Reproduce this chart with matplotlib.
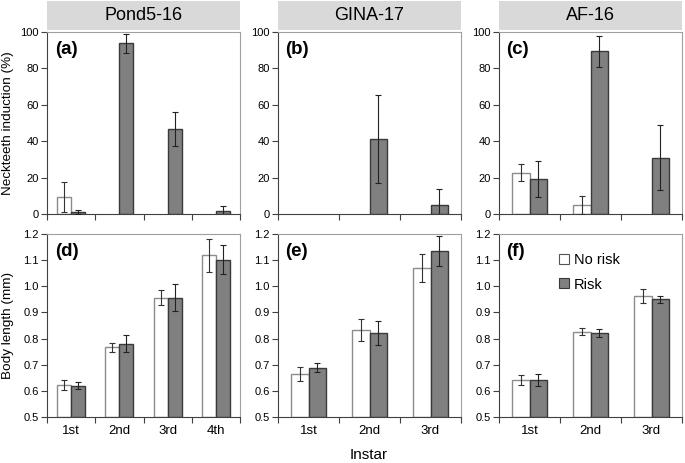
import matplotlib
matplotlib.use('Agg')
import matplotlib.pyplot as plt
import numpy as np
from matplotlib.patches import Rectangle
from matplotlib.lines import Line2D

plt.rcParams['font.family'] = ['Liberation Sans', 'DejaVu Sans']

# populations (strip titles)
populations = ['Pond5-16', 'GINA-17', 'AF-16']
instars = [['1st', '2nd', '3rd', '4th'], ['1st', '2nd', '3rd'], ['1st', '2nd', '3rd']]

# Neckteeth induction (%) - mean and error
teeth_norisk = [[9.2, 0, 0, 0], [0, 0, 0], [22.8, 4.8, 0]]
teeth_norisk_err = [[8.2, 0, 0, 0], [0, 0, 0], [4.6, 4.9, 0]]
teeth_risk = [[1.1, 93.8, 46.7, 1.6], [0, 41.3, 5.0], [19.3, 89.4, 31.0]]
teeth_risk_err = [[0.9, 5.2, 9.3, 2.6], [0, 24.3, 8.8], [10.0, 8.4, 17.8]]

# Body length (mm) - mean and error
body_norisk = [[0.622, 0.766, 0.957, 1.118], [0.664, 0.833, 1.070], [0.641, 0.826, 0.964]]
body_norisk_err = [[0.018, 0.016, 0.030, 0.063], [0.028, 0.043, 0.053], [0.019, 0.013, 0.027]]
body_risk = [[0.620, 0.781, 0.956, 1.102], [0.688, 0.822, 1.134], [0.642, 0.821, 0.950]]
body_risk_err = [[0.012, 0.033, 0.052, 0.055], [0.017, 0.046, 0.058], [0.023, 0.014, 0.013]]

panel_labels = [['(a)', '(b)', '(c)'], ['(d)', '(e)', '(f)']]

W, H = 685, 463
fig = plt.figure(figsize=(W / 100, H / 100), dpi=100)

# pixel boxes: (left, right) and (top, bottom)
cols = [(47, 240), (278, 461), (499, 682)]
rows = [(32, 214), (234, 417)]

white_edge = '#8c8c8c'
gray_fill = '#808080'
dark_edge = '#3a3a3a'
bw = 0.29

axes = {}
for r, (top, bot) in enumerate(rows):
    for c, (l, rr) in enumerate(cols):
        ax = fig.add_axes([l / W, (H - bot) / H, (rr - l) / W, (bot - top) / H])
        axes[(r, c)] = ax
        n = len(instars[c])
        x = np.arange(n) + 0.5
        if r == 0:
            nr, nre, rk, rke = teeth_norisk[c], teeth_norisk_err[c], teeth_risk[c], teeth_risk_err[c]
        else:
            nr, nre, rk, rke = body_norisk[c], body_norisk_err[c], body_risk[c], body_risk_err[c]
        base = 0 if r == 0 else 0.5
        nr, nre, rk, rke = map(np.array, (nr, nre, rk, rke))
        # skip empty bars in the top row
        m1 = nr > 0
        m2 = rk > 0
        ax.bar(x[m1] - bw / 2, nr[m1] - base, bw, bottom=base, color='white',
               edgecolor=white_edge, linewidth=1.0, zorder=2)
        ax.bar(x[m2] + bw / 2, rk[m2] - base, bw, bottom=base, color=gray_fill,
               edgecolor=dark_edge, linewidth=1.0, zorder=2)
        ax.errorbar(x[m1] - bw / 2, nr[m1], yerr=nre[m1], fmt='none',
                    ecolor='#333333', elinewidth=0.8, capsize=2.5, capthick=0.8, zorder=3)
        ax.errorbar(x[m2] + bw / 2, rk[m2], yerr=rke[m2], fmt='none',
                    ecolor='#222222', elinewidth=0.8, capsize=2.5, capthick=0.8, zorder=3)

        ax.set_xlim(0, n)
        ax.set_xticks(np.arange(n + 1))
        ax.set_xticklabels([])
        ax.tick_params(axis='x', which='major', direction='out', length=4, color='#404040')
        if r == 1:
            ax.set_xticks(x, minor=True)
            ax.set_xticklabels(instars[c], minor=True, fontsize=9.5)
            ax.tick_params(axis='x', which='minor', length=0, pad=6)
            ax.set_ylim(0.5, 1.2)
            ax.set_yticks(np.arange(0.5, 1.21, 0.1))
            ax.set_yticklabels([f'{v:.1f}' for v in np.arange(0.5, 1.21, 0.1)])
        else:
            ax.set_ylim(0, 100)
            ax.set_yticks(np.arange(0, 101, 20))
        ax.tick_params(axis='y', direction='out', length=4, labelsize=8, color='#404040', pad=2)
        for side in ['left', 'bottom']:
            ax.spines[side].set_color('#404040')
        for side in ['top', 'right']:
            ax.spines[side].set_color('#a0a0a0')
        ax.text(0.04, 0.95, panel_labels[r][c], transform=ax.transAxes, fontsize=13.5,
                fontweight='bold', ha='left', va='top')

        if r == 0:
            strip_h = 29 / (bot - top)
            ax.add_patch(Rectangle((0, 1.01), 1, strip_h, transform=ax.transAxes,
                                   facecolor='#d9d9d9', edgecolor='none', clip_on=False))
            ax.text(0.5, 1.01 + strip_h / 2, populations[c], transform=ax.transAxes,
                    ha='center', va='center', fontsize=13)

axes[(0, 0)].set_ylabel('Neckteeth induction (%)', fontsize=9.7)
axes[(1, 0)].set_ylabel('Body length (mm)', fontsize=9.7)
axes[(0, 0)].yaxis.set_label_coords(-0.17, 0.5)
axes[(1, 0)].yaxis.set_label_coords(-0.17, 0.5)

fig.text(369 / W, (H - 455) / H, 'Instar', ha='center', va='center', fontsize=11)

handles = [
    Line2D([], [], marker='s', linestyle='none', markersize=7.5, markerfacecolor='white',
           markeredgecolor='#555555', markeredgewidth=0.8),
    Line2D([], [], marker='s', linestyle='none', markersize=7.5, markerfacecolor=gray_fill,
           markeredgecolor=dark_edge, markeredgewidth=0.8),
]
axes[(1, 2)].legend(handles, ['No risk', 'Risk'], loc='upper left', bbox_to_anchor=(0.25, 0.97),
                    frameon=False, fontsize=10.5, handlelength=0.8, handletextpad=0.3,
                    labelspacing=0.75)

fig.savefig('out.png', dpi=100)
